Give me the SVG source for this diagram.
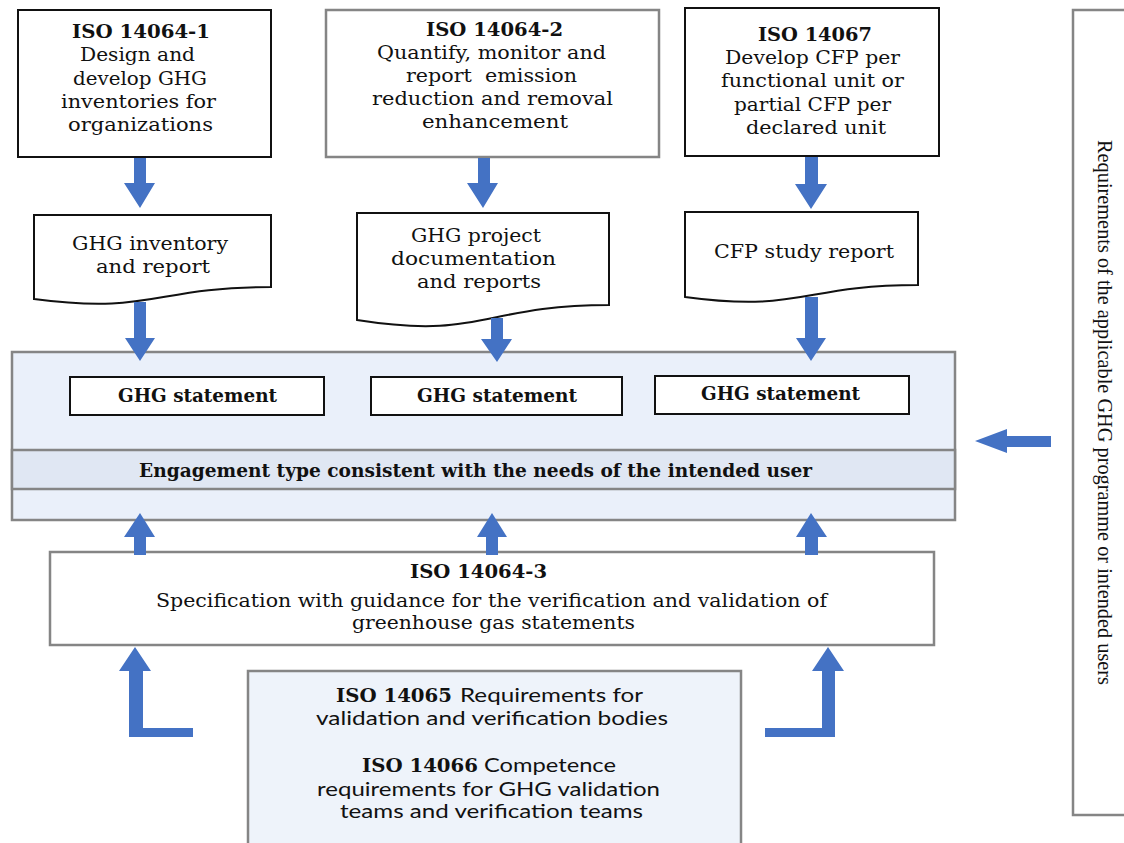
<svg xmlns="http://www.w3.org/2000/svg" width="1124" height="843" viewBox="0 0 1124 843">
<style>
.bk{fill:#fff;stroke:#111;stroke-width:2}
.gr{fill:#fff;stroke:#858585;stroke-width:2.5}
.big{fill:#EAF0FA;stroke:#858585;stroke-width:2.5}
.band{fill:#E0E7F3;stroke:#858585;stroke-width:2.5}
.low{fill:#EEF3FA;stroke:#858585;stroke-width:2.5}
.ar{fill:#4472C4}
text{font-family:"DejaVu Serif","Liberation Serif",serif;font-size:18px;fill:#111}
.b{font-weight:bold}
.s{font-family:Lato,"Liberation Sans",sans-serif;font-size:18.5px}
.rot{font-family:"Liberation Serif",serif;font-size:22px}
</style>
<g id="iso14064-1">
<rect class="bk" x="18" y="10" width="253" height="147"/>
<text class="b" x="72" y="38" textLength="138" lengthAdjust="spacingAndGlyphs">ISO 14064-1</text>
<text x="80" y="61" textLength="115" lengthAdjust="spacingAndGlyphs">Design and</text>
<text x="73" y="85" textLength="134" lengthAdjust="spacingAndGlyphs">develop GHG</text>
<text x="61" y="108" textLength="155" lengthAdjust="spacingAndGlyphs">inventories for</text>
<text x="68" y="131" textLength="145" lengthAdjust="spacingAndGlyphs">organizations</text>
</g>
<g id="iso14064-2">
<rect class="gr" x="326" y="10" width="333" height="147"/>
<text class="b" x="426" y="36" textLength="137" lengthAdjust="spacingAndGlyphs">ISO 14064-2</text>
<text x="377" y="59" textLength="229" lengthAdjust="spacingAndGlyphs">Quantify, monitor and</text>
<text x="406" y="82" textLength="171" lengthAdjust="spacingAndGlyphs" xml:space="preserve">report  emission</text>
<text x="372" y="105" textLength="241" lengthAdjust="spacingAndGlyphs">reduction and removal</text>
<text x="422" y="128" textLength="146" lengthAdjust="spacingAndGlyphs">enhancement</text>
</g>
<g id="iso14067">
<rect class="bk" x="685" y="8" width="254" height="148"/>
<text class="b" x="758" y="41" textLength="114" lengthAdjust="spacingAndGlyphs">ISO 14067</text>
<text x="725" y="64" textLength="175" lengthAdjust="spacingAndGlyphs">Develop CFP per</text>
<text x="721" y="87" textLength="183" lengthAdjust="spacingAndGlyphs">functional unit or</text>
<text x="734" y="111" textLength="157" lengthAdjust="spacingAndGlyphs">partial CFP per</text>
<text x="746" y="134" textLength="140" lengthAdjust="spacingAndGlyphs">declared unit</text>
</g>
<g id="doc-inventory">
<path class="bk" d="M34,215 H271 V287 C152.5,287 152.5,314.7 34,299 Z"/>
<text x="72" y="250" textLength="156" lengthAdjust="spacingAndGlyphs">GHG inventory</text>
<text x="96" y="273" textLength="114" lengthAdjust="spacingAndGlyphs">and report</text>
</g>
<g id="doc-project">
<path class="bk" d="M357,213 H609 V305 C483,305 483,340 357,320 Z"/>
<text x="411" y="242" textLength="130" lengthAdjust="spacingAndGlyphs">GHG project</text>
<text x="391" y="265" textLength="165" lengthAdjust="spacingAndGlyphs">documentation</text>
<text x="417" y="288" textLength="124" lengthAdjust="spacingAndGlyphs">and reports</text>
</g>
<g id="doc-cfp">
<path class="bk" d="M685,212 H918 V285 C801.5,285 801.5,312.8 685,297 Z"/>
<text x="714" y="258" textLength="180" lengthAdjust="spacingAndGlyphs">CFP study report</text>
</g>
<g id="verification-scope">
<rect class="big" x="12" y="352" width="943" height="168"/>
<rect class="band" x="12" y="450" width="943" height="39"/>
<text class="b" x="139" y="477" textLength="673" lengthAdjust="spacingAndGlyphs">Engagement type consistent with the needs of the intended user</text>
</g>
<g id="statement-1">
<rect class="bk" x="70" y="377" width="254" height="38"/>
<text class="b" x="118" y="402" textLength="159" lengthAdjust="spacingAndGlyphs">GHG statement</text>
</g>
<g id="statement-2">
<rect class="bk" x="371" y="377" width="251" height="38"/>
<text class="b" x="417" y="402" textLength="160" lengthAdjust="spacingAndGlyphs">GHG statement</text>
</g>
<g id="statement-3">
<rect class="bk" x="655" y="376" width="254" height="38"/>
<text class="b" x="701" y="400" textLength="159" lengthAdjust="spacingAndGlyphs">GHG statement</text>
</g>
<g id="iso14064-3">
<rect class="gr" x="50" y="552" width="884" height="93"/>
<text class="b" x="410" y="578" textLength="137" lengthAdjust="spacingAndGlyphs">ISO 14064-3</text>
<text x="156" y="607" textLength="671" lengthAdjust="spacingAndGlyphs">Specification with guidance for the verification and validation of</text>
<text x="352" y="629" textLength="283" lengthAdjust="spacingAndGlyphs">greenhouse gas statements</text>
</g>
<g id="iso14065-14066">
<rect class="low" x="248" y="671" width="493" height="185"/>
<text class="b" x="336" y="702" textLength="116" lengthAdjust="spacingAndGlyphs">ISO 14065</text>
<text class="s" x="460" y="702" textLength="183" lengthAdjust="spacingAndGlyphs">Requirements for</text>
<text class="s" x="316" y="725" textLength="352" lengthAdjust="spacingAndGlyphs">validation and verification bodies</text>
<text class="b" x="362" y="772" textLength="116" lengthAdjust="spacingAndGlyphs">ISO 14066</text>
<text class="s" x="484" y="772" textLength="132" lengthAdjust="spacingAndGlyphs">Competence</text>
<text class="s" x="317" y="796" textLength="343" lengthAdjust="spacingAndGlyphs">requirements for GHG validation</text>
<text class="s" x="340" y="818" textLength="303" lengthAdjust="spacingAndGlyphs">teams and verification teams</text>
</g>
<g id="programme-requirements">
<rect class="gr" x="1073" y="10" width="70" height="805"/>
<text class="rot" transform="translate(1098,140) rotate(90)" x="0" y="0" textLength="545" lengthAdjust="spacingAndGlyphs">Requirements of the applicable GHG programme or intended users</text>
</g>
<g id="connectors">
<polygon class="ar" points="134,158 146,158 146,183 155,183 140,208 124,183 134,183"/>
<polygon class="ar" points="478,158 490,158 490,183 498,183 483,208 467,183 478,183"/>
<polygon class="ar" points="805,157 818,157 818,184 827,184 811,209 795,184 805,184"/>
<polygon class="ar" points="134,302 146,302 146,338 155,338 140,361 125,338 134,338"/>
<polygon class="ar" points="491,318 503,318 503,339 512,339 497,362 481,339 491,339"/>
<polygon class="ar" points="805,297 818,297 818,338 826,338 811,361 796,338 805,338"/>
<polygon class="ar" points="134,555 146,555 146,537 155,537 140,513 124,537 134,537"/>
<polygon class="ar" points="486,555 498,555 498,537 507,537 492,513 477,537 486,537"/>
<polygon class="ar" points="805,555 818,555 818,537 827,537 811,513 796,537 805,537"/>
<polygon class="ar" points="135,647 151,671 143,671 143,728 193,728 193,737 129,737 129,671 119,671"/>
<polygon class="ar" points="828,647 844,671 835,671 835,737 765,737 765,728 822,728 822,671 812,671"/>
<polygon class="ar" points="975,441 1007,429 1007,436 1051,436 1051,447 1007,447 1007,453"/>
</g>
</svg>
